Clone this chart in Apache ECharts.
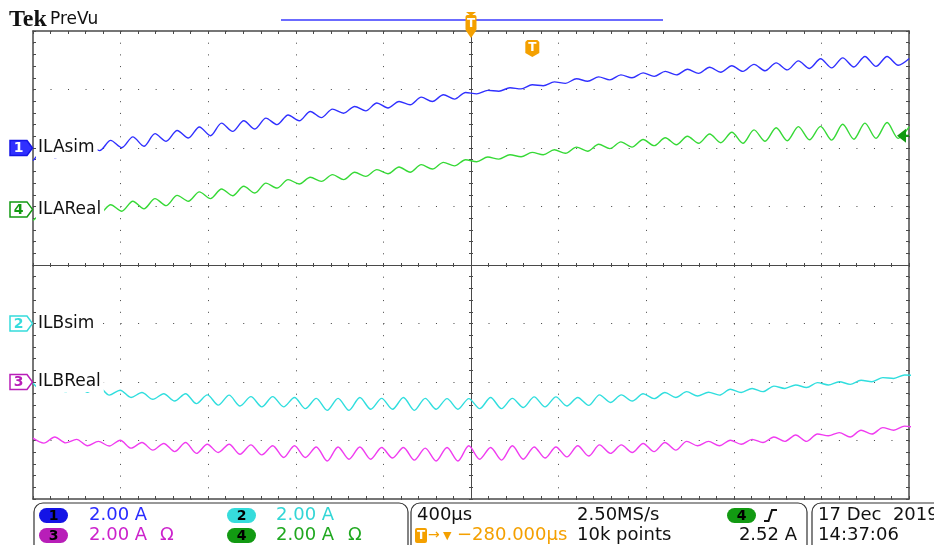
<!DOCTYPE html>
<html>
<head>
<meta charset="utf-8">
<script src="https://cdn.jsdelivr.net/npm/echarts@6/dist/echarts.min.js"></script>
<style>
  html, body { margin: 0; padding: 0; background: #ffffff; }
  #scope { width: 934px; height: 545px; }
</style>
</head>
<body>
<div id="scope"></div>
<script>
// ---- Acquisition settings -------------------------------------------------
const timeMin = -2000;          // µs, left edge of the screen
const timeMax = 2000;           // µs, right edge
const timePerDiv = 400;         // µs/div
const triggerTime = 280;        // µs, trigger point relative to screen centre
const triggerLevel = 2.52;      // A on channel 4
const ampsPerDiv = [2.00, 2.00, 2.00, 2.00];      // ch1..ch4
const groundDiv = [2.0, -1.0, -2.0, 0.95];        // ch1..ch4 ground position, divisions
const channelNames = ['ILAsim', 'ILBsim', 'ILBReal', 'ILAReal'];

// Record sample clocks (phase A and phase B ripple are sampled at their own rate)
const phaseAStart = -2000, phaseAStep = 50.65;   // µs
const phaseBStart = -2000, phaseBStep = 49.75;   // µs

// ---- Recorded currents (A) -------------------------------------------------
const ilaSim = [
  -0.43, -0.11, -0.33, -0.01, -0.23, 0.11, -0.09, 0.26, 0.01, 0.38,
  0.06, 0.49, 0.23, 0.60, 0.34, 0.72, 0.42, 0.85, 0.57, 0.93,
  0.65, 1.02, 0.80, 1.13, 0.93, 1.25, 1.04, 1.33, 1.19, 1.42,
  1.27, 1.54, 1.37, 1.59, 1.48, 1.74, 1.59, 1.82, 1.67, 1.90,
  1.85, 1.97, 1.94, 2.06, 2.02, 2.16, 2.13, 2.26, 2.21, 2.37,
  2.28, 2.43, 2.33, 2.50, 2.40, 2.57, 2.45, 2.62, 2.50, 2.69,
  2.55, 2.76, 2.59, 2.81, 2.62, 2.86, 2.64, 2.91, 2.67, 2.98,
  2.72, 3.05, 2.74, 3.08, 2.77, 3.13, 2.79, 3.13, 2.83, 3.06
];
const ilaReal = [
  -0.38, -0.14, -0.31, -0.08, -0.25, -0.01, -0.14, 0.16, -0.06, 0.28,
  0.02, 0.37, 0.13, 0.48, 0.28, 0.60, 0.37, 0.70, 0.47, 0.79,
  0.56, 0.90, 0.73, 1.02, 0.87, 1.10, 0.96, 1.19, 1.02, 1.27,
  1.13, 1.36, 1.22, 1.45, 1.27, 1.53, 1.38, 1.61, 1.49, 1.70,
  1.63, 1.79, 1.72, 1.87, 1.80, 1.95, 1.87, 2.04, 1.92, 2.13,
  1.99, 2.23, 2.08, 2.31, 2.13, 2.39, 2.18, 2.45, 2.21, 2.50,
  2.26, 2.58, 2.28, 2.64, 2.26, 2.72, 2.33, 2.79, 2.35, 2.83,
  2.38, 2.84, 2.37, 2.91, 2.40, 2.95, 2.43, 2.97, 2.43, 2.83
];
const ilbSim = [
  -2.04, -2.32, -2.08, -2.33, -2.11, -2.35, -2.15, -2.45, -2.28, -2.53,
  -2.36, -2.59, -2.40, -2.65, -2.40, -2.74, -2.44, -2.79, -2.45, -2.82,
  -2.50, -2.85, -2.50, -2.85, -2.53, -2.91, -2.56, -2.97, -2.56, -2.97,
  -2.53, -2.93, -2.56, -2.93, -2.53, -2.97, -2.56, -2.93, -2.57, -2.93,
  -2.57, -2.91, -2.53, -2.91, -2.56, -2.87, -2.51, -2.85, -2.51, -2.82,
  -2.53, -2.80, -2.44, -2.70, -2.44, -2.65, -2.40, -2.57, -2.36, -2.53,
  -2.33, -2.48, -2.35, -2.45, -2.25, -2.36, -2.22, -2.33, -2.14, -2.22,
  -2.10, -2.19, -2.02, -2.10, -1.99, -2.08, -1.94, -1.99, -1.85, -1.88,
  -1.76, -1.78
];
const ilbReal = [
  -1.92, -2.09, -1.88, -2.08, -1.96, -2.18, -2.03, -2.19, -1.99, -2.26,
  -2.07, -2.33, -2.10, -2.38, -2.07, -2.44, -2.13, -2.41, -2.13, -2.47,
  -2.15, -2.49, -2.18, -2.58, -2.18, -2.58, -2.22, -2.70, -2.22, -2.64,
  -2.22, -2.64, -2.24, -2.60, -2.24, -2.67, -2.26, -2.70, -2.24, -2.70,
  -2.18, -2.64, -2.24, -2.67, -2.18, -2.64, -2.22, -2.60, -2.22, -2.56,
  -2.18, -2.53, -2.15, -2.44, -2.15, -2.41, -2.10, -2.38, -2.07, -2.33,
  -2.03, -2.18, -2.03, -2.18, -1.99, -2.13, -1.96, -2.07, -1.88, -2.03,
  -1.81, -2.03, -1.78, -1.84, -1.73, -1.88, -1.65, -1.78, -1.56, -1.65,
  -1.51, -1.55
];

// ---- Screen styling ----------------------------------------------------------
const GRID = { left: 33, top: 31, width: 876, height: 468 };
const FRAME = '#4a4a4a';
const DOTS = '#444444';
const traceColor = ['#3030ff', '#30dede', '#f03cf0', '#36d936'];   // ch1..ch4
const pillColor = ['#1414e6', '#36dcdc', '#b81eb8', '#129a12'];
const readoutColor = ['#2a2aff', '#33d6d6', '#cc22cc', '#1fa81f'];
const ORANGE = '#f4a000';
const FONT = '"DejaVu Sans", Verdana, sans-serif';

const dotGapV = GRID.height / 8 / 5 - 1;   // graticule dots down the vertical lines
const dotGapH = GRID.width / 10 / 5 - 1;   // graticule dots along the horizontal lines

function timeAxis(extra) {
  return Object.assign({
    type: 'value', min: timeMin, max: timeMax, interval: timePerDiv,
    axisLabel: { show: false }, splitLine: { show: false },
    axisLine: { show: true, onZero: false, lineStyle: { color: FRAME, width: 1.5 } },
    axisTick: { show: true, inside: true, length: 3, lineStyle: { color: FRAME, width: 1 } },
    minorTick: { show: true, splitNumber: 5, length: 3, lineStyle: { color: FRAME, width: 1 } }
  }, extra);
}
function divAxis(extra) {
  return Object.assign({
    type: 'value', min: -4, max: 4, interval: 1,
    axisLabel: { show: false }, splitLine: { show: false },
    axisLine: { show: true, onZero: false, lineStyle: { color: FRAME, width: 1.5 } },
    axisTick: { show: true, inside: true, length: 3, lineStyle: { color: FRAME, width: 1 } },
    minorTick: { show: true, splitNumber: 5, length: 3, lineStyle: { color: FRAME, width: 1 } }
  }, extra);
}
// One hidden amplitude axis per channel: A/div scale shifted by its ground position
function channelAxis(ch) {
  return {
    type: 'value', show: false,
    min: (-4 - groundDiv[ch]) * ampsPerDiv[ch],
    max: (4 - groundDiv[ch]) * ampsPerDiv[ch],
    axisLine: { onZero: false }, splitLine: { show: false }
  };
}
const centreTick = { length: 2 };

function trace(name, values, start, step, ch) {
  return {
    name: name, type: 'line', xAxisIndex: 0, yAxisIndex: 4 + ch,
    data: values.map((v, i) => [start + i * step, v]),
    showSymbol: false, symbol: 'none', smooth: 0.3, silent: true,
    lineStyle: { color: traceColor[ch], width: 1.4 },
    z: 3, animation: false
  };
}

const chart = echarts.init(document.getElementById('scope'));
chart.setOption({
  backgroundColor: '#ffffff',
  animation: false,
  grid: Object.assign({ outerBoundsMode: 'none', containLabel: false }, GRID),
  xAxis: [
    timeAxis({ position: 'bottom',
      splitLine: { show: true, lineStyle: { color: DOTS, width: 1, type: [1, dotGapV] } } }),
    timeAxis({ position: 'top' }),
    timeAxis({ position: 'bottom', offset: -GRID.height / 2,
      axisLine: { show: true, onZero: false, lineStyle: { color: FRAME, width: 1 } },
      axisTick: { show: true, inside: true, length: centreTick.length, lineStyle: { color: FRAME } },
      minorTick: { show: true, splitNumber: 5, length: centreTick.length, lineStyle: { color: FRAME } } }),
    timeAxis({ position: 'bottom', offset: -GRID.height / 2,
      axisLine: { show: true, onZero: false, lineStyle: { color: FRAME, width: 1 } },
      axisTick: { show: true, inside: false, length: centreTick.length, lineStyle: { color: FRAME } },
      minorTick: { show: true, splitNumber: 5, length: centreTick.length, lineStyle: { color: FRAME } } })
  ],
  yAxis: [
    divAxis({ position: 'left',
      splitLine: { show: true, lineStyle: { color: DOTS, width: 1, type: [1, dotGapH] } } }),
    divAxis({ position: 'right' }),
    divAxis({ position: 'left', offset: -GRID.width / 2,
      axisLine: { show: true, onZero: false, lineStyle: { color: FRAME, width: 1 } },
      axisTick: { show: true, inside: true, length: centreTick.length, lineStyle: { color: FRAME } },
      minorTick: { show: true, splitNumber: 5, length: centreTick.length, lineStyle: { color: FRAME } } }),
    divAxis({ position: 'left', offset: -GRID.width / 2,
      axisLine: { show: true, onZero: false, lineStyle: { color: FRAME, width: 1 } },
      axisTick: { show: true, inside: false, length: centreTick.length, lineStyle: { color: FRAME } },
      minorTick: { show: true, splitNumber: 5, length: centreTick.length, lineStyle: { color: FRAME } } }),
    channelAxis(0), channelAxis(1), channelAxis(2), channelAxis(3)
  ],
  series: [
    trace(channelNames[0], ilaSim, phaseAStart, phaseAStep, 0),
    trace(channelNames[1], ilbSim, phaseBStart, phaseBStep, 1),
    trace(channelNames[2], ilbReal, phaseBStart, phaseBStep, 2),
    trace(channelNames[3], ilaReal, phaseAStart, phaseAStep, 3)
  ]
});

// ---- Screen annotations placed from the axes --------------------------------
const groundY = [0, 1, 2, 3].map(ch => chart.convertToPixel({ yAxisIndex: 4 + ch }, 0));
const centreX = chart.convertToPixel({ xAxisIndex: 0 }, 0);
const trigX = chart.convertToPixel({ xAxisIndex: 0 }, triggerTime);
const trigY = chart.convertToPixel({ yAxisIndex: 7 }, triggerLevel);
const rightEdge = GRID.left + GRID.width;

const g = [];
function txt(x, y, text, color, font, align) {
  g.push({ type: 'text', x: x, y: y, z: 100,
    style: { text: text, fill: color, font: font || ('18px ' + FONT), align: align || 'left', verticalAlign: 'middle' } });
}
function pill(x, y, num, color) {
  g.push({ type: 'rect', z: 100, shape: { x: x, y: y - 7.5, width: 29, height: 15, r: 7.5 }, style: { fill: color } });
  txt(x + 14.5, y + 0.5, String(num), '#000000', 'bold 14px ' + FONT, 'center');
}

// Channel ground markers and trace names
const markerOrder = [0, 3, 1, 2];
markerOrder.forEach(ch => {
  const yc = groundY[ch];
  const filled = ch === 0;
  g.push({ type: 'polygon', z: 100,
    shape: { points: [[10, yc - 7.5], [27, yc - 7.5], [32.5, yc], [27, yc + 7.5], [10, yc + 7.5]] },
    style: { fill: filled ? traceColor[ch] : '#ffffff', stroke: pillColor[ch], lineWidth: 1.5 } });
  txt(18.5, yc + 0.5, String(ch + 1), filled ? '#ffffff' : pillColor[ch], 'bold 14px ' + FONT, 'center');
  g.push({ type: 'text', x: 36, y: yc, z: 99,
    style: { text: channelNames[ch], fill: '#111111', font: '17px ' + FONT,
      verticalAlign: 'middle', backgroundColor: '#ffffff', padding: [2, 3, 1, 2] } });
});

// Trigger level arrow on the right edge (ch4)
g.push({ type: 'polygon', z: 100,
  shape: { points: [[897, trigY], [906, trigY - 7], [906, trigY + 7]] }, style: { fill: pillColor[3] } });
g.push({ type: 'line', z: 100, shape: { x1: 900, y1: trigY, x2: rightEdge, y2: trigY },
  style: { stroke: pillColor[3], lineWidth: 2 } });

// Header
txt(9, 20, 'Tek', '#111111', 'bold 24px "Liberation Serif", serif');
txt(50, 20, 'PreVu', '#111111', '17px ' + FONT);
g.push({ type: 'line', z: 90, shape: { x1: 281, y1: 20, x2: 663, y2: 20 }, style: { stroke: '#3a3aff', lineWidth: 1.5 } });
// expansion point marker
g.push({ type: 'polygon', z: 100, shape: { points: [[centreX - 5, 12], [centreX + 5, 12], [centreX, 16]] }, style: { fill: ORANGE } });
g.push({ type: 'rect', z: 100, shape: { x: centreX - 5.5, y: 15, width: 11, height: 16, r: 2 }, style: { fill: ORANGE } });
txt(centreX, 23.5, 'T', '#ffffff', 'bold 12px ' + FONT, 'center');
g.push({ type: 'polygon', z: 100, shape: { points: [[centreX - 5.5, 30], [centreX + 5.5, 30], [centreX, 38]] }, style: { fill: ORANGE } });
// trigger position marker
g.push({ type: 'polygon', z: 100,
  shape: { points: [[trigX - 7, 42], [trigX - 5, 40], [trigX + 5, 40], [trigX + 7, 42], [trigX + 7, 53], [trigX, 57], [trigX - 7, 53]] },
  style: { fill: ORANGE } });
txt(trigX, 48, 'T', '#ffffff', 'bold 12px ' + FONT, 'center');

// Status panels
[[34, 374], [411, 396], [812, 140]].forEach(b => {
  g.push({ type: 'rect', z: 90, shape: { x: b[0], y: 503, width: b[1], height: 60, r: 9 },
    style: { fill: 'none', stroke: '#333333', lineWidth: 1.2 } });
});
const row1 = 515.5, row2 = 535.5;
pill(39, row1, 1, pillColor[0]);
txt(89, row1, '2.00 A', readoutColor[0]);
pill(227, row1, 2, pillColor[1]);
txt(276, row1, '2.00 A', readoutColor[1]);
pill(39, row2, 3, pillColor[2]);
txt(89, row2, '2.00 A', readoutColor[2]);
txt(160, row2, 'Ω', readoutColor[2]);
pill(227, row2, 4, pillColor[3]);
txt(276, row2, '2.00 A', readoutColor[3]);
txt(348, row2, 'Ω', readoutColor[3]);

txt(417, row1, '400µs', '#111111');
txt(577, row1, '2.50MS/s', '#111111');
pill(727, row1, 4, pillColor[3]);
g.push({ type: 'polyline', z: 100, shape: { points: [[764, 521], [768.5, 521], [772, 510], [777, 510]] },
  style: { stroke: '#111111', lineWidth: 2, fill: 'none' } });
g.push({ type: 'rect', z: 100, shape: { x: 415, y: row2 - 7.5, width: 12, height: 15, r: 2 }, style: { fill: ORANGE } });
txt(421, row2 + 0.5, 'T', '#ffffff', 'bold 12px ' + FONT, 'center');
txt(428, row2, '→', ORANGE, '14px ' + FONT);
txt(443, row2 + 1, '▼', ORANGE, '11px ' + FONT);
txt(457, row2, '−280.000µs', ORANGE);
txt(577, row2, '10k points', '#111111');
txt(797, row2, '2.52 A', '#111111', null, 'right');
txt(818, row1, '17 Dec  2019', '#111111');
txt(818, row2, '14:37:06', '#111111');

chart.setOption({ graphic: { elements: g } });
</script>
</body>
</html>
